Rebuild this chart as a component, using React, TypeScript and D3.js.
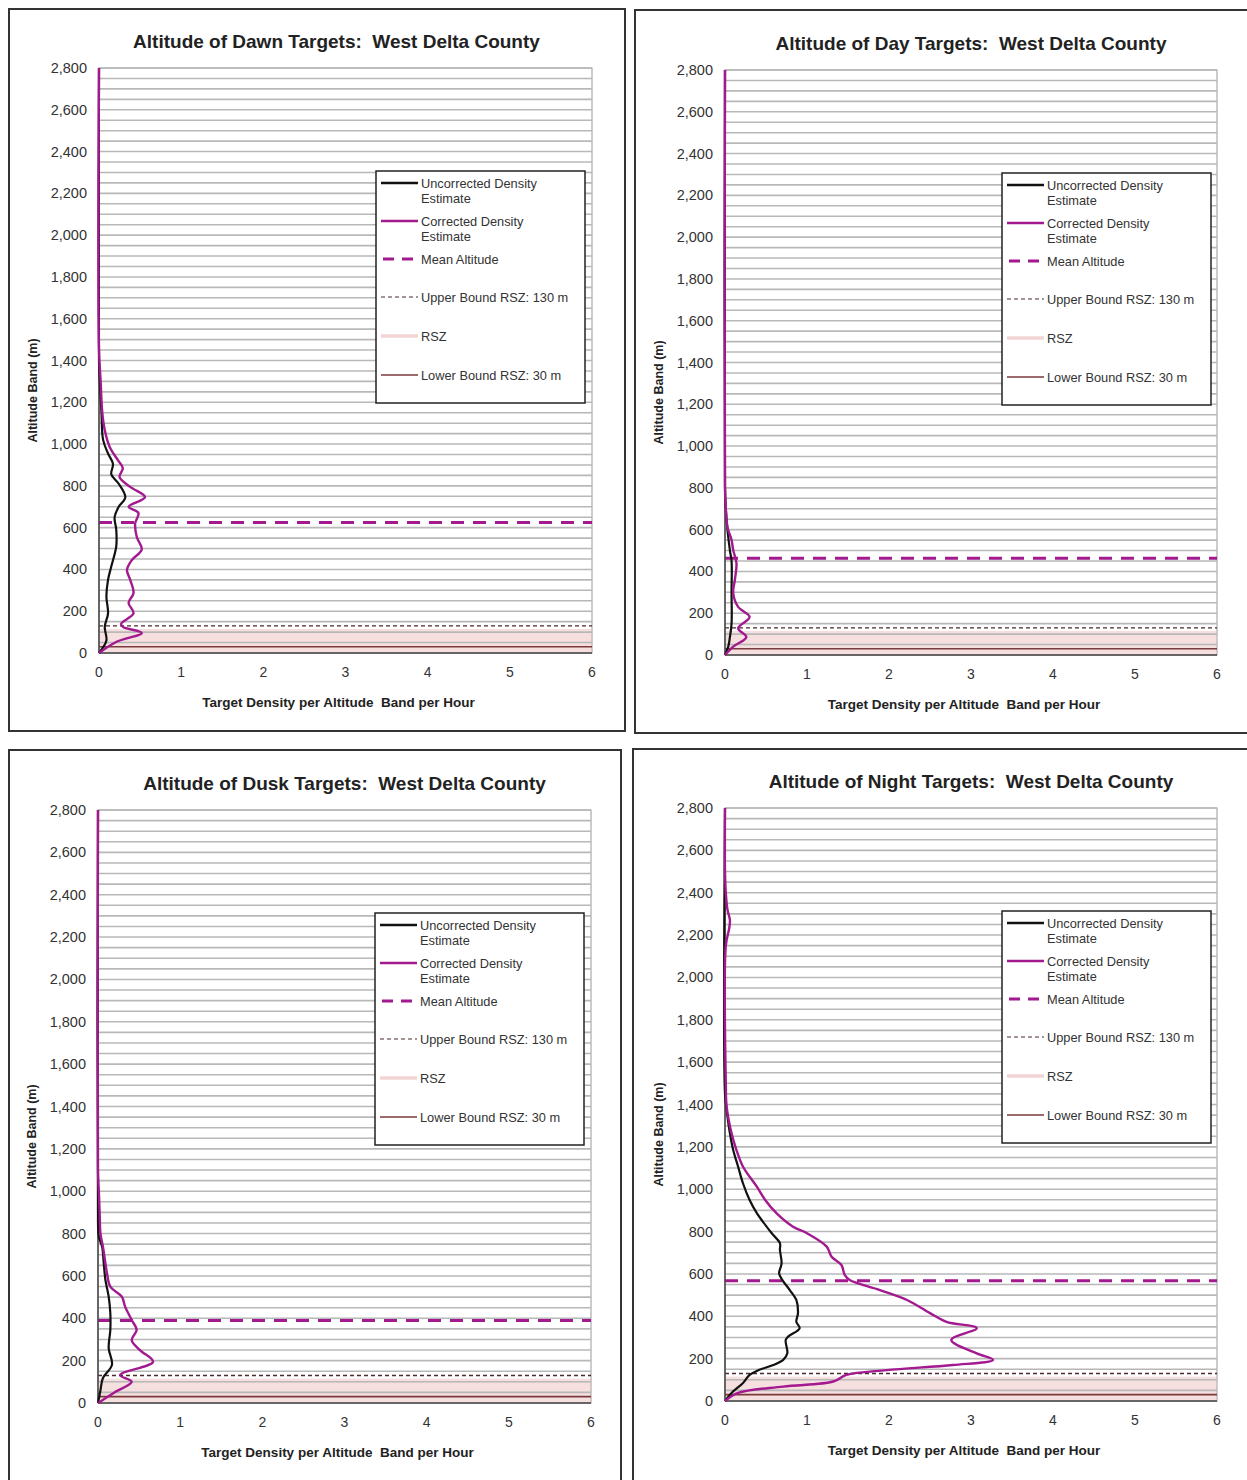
import React from "react";
import * as d3 from "d3";

// [altitude m, density]
const dawnUncorrected = [[0,0],[60,0.09],[125,0.07],[190,0.11],[270,0.09],[350,0.11],[415,0.15],[510,0.21],[590,0.21],[650,0.19],[700,0.24],[745,0.32],[810,0.24],[855,0.15],[905,0.17],[955,0.11],[1020,0.05],[1150,0.03],[1300,0.01],[1400,0],[2800,0]];
const dawnCorrected = [[0,0],[55,0.22],[96,0.52],[125,0.29],[140,0.27],[190,0.42],[240,0.36],[287,0.42],[350,0.38],[397,0.34],[445,0.4],[495,0.52],[555,0.46],[620,0.44],[670,0.48],[700,0.36],[746,0.56],[795,0.38],[842,0.25],[885,0.29],[923,0.23],[986,0.13],[1067,0.07],[1150,0.04],[1300,0.02],[1450,0],[2800,0]];

const dayUncorrected = [[0,0],[40,0.04],[86,0.06],[150,0.08],[300,0.08],[450,0.08],[500,0.06],[600,0.03],[700,0.01],[800,0],[2800,0]];
const dayCorrected = [[0,0],[40,0.1],[86,0.26],[128,0.16],[182,0.3],[230,0.16],[296,0.1],[359,0.12],[439,0.14],[502,0.1],[550,0.08],[612,0.03],[700,0.01],[800,0],[2800,0]];

const duskUncorrected = [[0,0],[60,0.03],[118,0.06],[180,0.17],[259,0.13],[345,0.15],[424,0.15],[502,0.13],[581,0.09],[660,0.07],[738,0.05],[785,0.01],[850,0],[2800,0]];
const duskCorrected = [[0,0],[50,0.2],[100,0.41],[132,0.27],[195,0.67],[250,0.51],[297,0.41],[345,0.47],[392,0.41],[455,0.33],[502,0.29],[549,0.15],[612,0.11],[660,0.09],[738,0.06],[800,0.03],[900,0.02],[1000,0.01],[1100,0],[2800,0]];

const nightUncorrected = [[0,0],[38,0.08],[85,0.22],[123,0.3],[146,0.41],[170,0.59],[194,0.71],[225,0.76],[288,0.74],[304,0.77],[344,0.91],[374,0.87],[415,0.89],[477,0.87],[524,0.79],[571,0.7],[603,0.66],[650,0.69],[713,0.67],[745,0.67],[792,0.57],[886,0.39],[949,0.3],[1027,0.22],[1106,0.16],[1185,0.1],[1264,0.06],[1374,0.02],[1450,0],[2800,0]];
const nightCorrected = [[0,0],[38,0.16],[68,0.71],[92,1.32],[123,1.48],[146,1.97],[170,2.78],[194,3.27],[225,3.07],[288,2.76],[344,3.07],[374,2.7],[415,2.5],[477,2.22],[524,1.89],[571,1.52],[595,1.46],[642,1.42],[681,1.3],[729,1.24],[792,1.0],[823,0.83],[886,0.63],[949,0.49],[1011,0.39],[1106,0.22],[1185,0.14],[1264,0.08],[1390,0.02],[1500,0.01],[2150,0.01],[2230,0.05],[2270,0.06],[2320,0.03],[2400,0.01],[2500,0],[2800,0]];

const meanAltitude = [625, 463, 390, 568];
const titles = [
  "Altitude of Dawn Targets:  West Delta County",
  "Altitude of Day Targets:  West Delta County",
  "Altitude of Dusk Targets:  West Delta County",
  "Altitude of Night Targets:  West Delta County",
];
const altTicks = d3.range(0, 2801, 200);
const gridAlts = d3.range(50, 2801, 50);
const densityTicks = [0, 1, 2, 3, 4, 5, 6];
const legendItems = [
  ["Uncorrected Density", "Estimate"],
  ["Corrected Density", "Estimate"],
  ["Mean Altitude"],
  ["Upper Bound RSZ: 130 m"],
  ["RSZ"],
  ["Lower Bound RSZ: 30 m"],
];

const MAGENTA = "#a3198f";
const FONT = "'Liberation Sans', Arial, sans-serif";
const pre = { whiteSpace: "pre" };

const panels = [
  { frame: [9, 9, 616, 722], plot: [99, 68, 493, 585], titleDx: -9, uncorrected: dawnUncorrected, corrected: dawnCorrected },
  { frame: [635, 10, 620, 723], plot: [725, 70, 492, 585], titleDx: 0, uncorrected: dayUncorrected, corrected: dayCorrected },
  { frame: [9, 750, 612, 740], plot: [98, 810, 493, 593], titleDx: 0, uncorrected: duskUncorrected, corrected: duskCorrected },
  { frame: [633, 749, 620, 740], plot: [725, 808, 492, 593], titleDx: 0, uncorrected: nightUncorrected, corrected: nightCorrected },
];

function Panel({ p, i }) {
  const [px, py, pw, ph] = p.plot;
  const x = d3.scaleLinear().domain([0, 6]).range([px, px + pw]);
  const y = d3.scaleLinear().domain([0, 2800]).range([py + ph, py]);
  const line = d3.line().x((d) => x(d[1])).y((d) => y(d[0])).curve(d3.curveCatmullRom.alpha(0.5));
  const [fx, fy, fw, fh] = p.frame;
  const lx = px + 277;
  const ly = py + 103;
  const mean = meanAltitude[i];
  return (
    <g>
      <rect x={fx} y={fy} width={fw} height={fh} fill="#fff" stroke="#333" strokeWidth={2} />
      <text x={px + pw / 2 + p.titleDx} y={py - 20} textAnchor="middle" fontFamily={FONT} fontWeight="bold" fontSize={19} fill="#222" style={pre}>{titles[i]}</text>
      <rect x={px} y={py} width={pw} height={ph} fill="#fff" stroke="#999" strokeWidth={1} />
      {/* RSZ band */}
      <rect x={px} y={y(115)} width={pw} height={y(0) - y(115)} fill="#e9b9b9" opacity={0.45} />
      {gridAlts.map((a) => (
        <line key={a} x1={px} x2={px + pw} y1={y(a)} y2={y(a)} stroke="#b8b8b8" strokeWidth={1.6} />
      ))}
      <line x1={px} x2={px + pw} y1={y(130)} y2={y(130)} stroke="#4a2a2a" strokeWidth={1.4} strokeDasharray="4 3" />
      <line x1={px} x2={px + pw} y1={y(30)} y2={y(30)} stroke="#7a3a3a" strokeWidth={1.6} />
      <line x1={px} x2={px + pw} y1={y(mean)} y2={y(mean)} stroke={MAGENTA} strokeWidth={3} strokeDasharray="13 9" />
      <line x1={px} x2={px} y1={py} y2={py + ph} stroke="#444" strokeWidth={1.5} />
      <line x1={px} x2={px + pw} y1={py + ph} y2={py + ph} stroke="#444" strokeWidth={1.5} />
      <path d={line(p.uncorrected)} fill="none" stroke="#111" strokeWidth={2.2} />
      <path d={line(p.corrected)} fill="none" stroke={MAGENTA} strokeWidth={2.4} />
      {altTicks.map((a) => (
        <text key={a} x={px - 12} y={y(a) + 5} textAnchor="end" fontFamily={FONT} fontSize={14.5} fill="#333">{d3.format(",")(a)}</text>
      ))}
      {densityTicks.map((t) => (
        <text key={t} x={x(t)} y={py + ph + 24} textAnchor="middle" fontFamily={FONT} fontSize={14} fill="#333">{t}</text>
      ))}
      <text x={px + pw / 2 - 7} y={py + ph + 54} textAnchor="middle" fontFamily={FONT} fontWeight="bold" fontSize={13.5} fill="#222" style={pre}>Target Density per Altitude  Band per Hour</text>
      <text transform={`translate(${px - 62},${py + ph / 2 + 30}) rotate(-90)`} textAnchor="middle" fontFamily={FONT} fontWeight="bold" fontSize={12.5} fill="#222">Altitude Band (m)</text>
      {/* legend */}
      <rect x={lx} y={ly} width={209} height={232} fill="#fff" stroke="#222" strokeWidth={1.5} />
      {legendItems.map((item, k) => {
        const yy = ly + 12 + [0, 38, 76, 114, 153, 192][k];
        const x1 = lx + 5;
        const x2 = lx + 42;
        let mark;
        if (k === 0) mark = <line x1={x1} x2={x2} y1={yy} y2={yy} stroke="#111" strokeWidth={2.5} />;
        else if (k === 1) mark = <line x1={x1} x2={x2} y1={yy} y2={yy} stroke={MAGENTA} strokeWidth={2.5} />;
        else if (k === 2) mark = <line x1={x1 + 2} x2={x2} y1={yy} y2={yy} stroke={MAGENTA} strokeWidth={3} strokeDasharray="11 8" />;
        else if (k === 3) mark = <line x1={x1} x2={x2} y1={yy} y2={yy} stroke="#4a2a2a" strokeWidth={1.2} strokeDasharray="4 3" />;
        else if (k === 4) mark = <line x1={x1} x2={x2} y1={yy} y2={yy} stroke="#f3d4d4" strokeWidth={3.5} />;
        else mark = <line x1={x1} x2={x2} y1={yy} y2={yy} stroke="#7a3a3a" strokeWidth={1.3} />;
        return (
          <g key={k}>
            {mark}
            {item.map((s, j) => (
              <text key={j} x={lx + 45} y={yy + 4.5 + j * 15} fontFamily={FONT} fontSize={12.8} fill="#333">{s}</text>
            ))}
          </g>
        );
      })}
    </g>
  );
}

export default function App() {
  return (
    <svg width={1247} height={1480} style={{ position: "absolute", left: 0, top: 0, background: "#fff" }}>
      <rect x={0} y={0} width={1247} height={1480} fill="#fff" />
      {panels.map((p, i) => (
        <Panel key={i} p={p} i={i} />
      ))}
    </svg>
  );
}
